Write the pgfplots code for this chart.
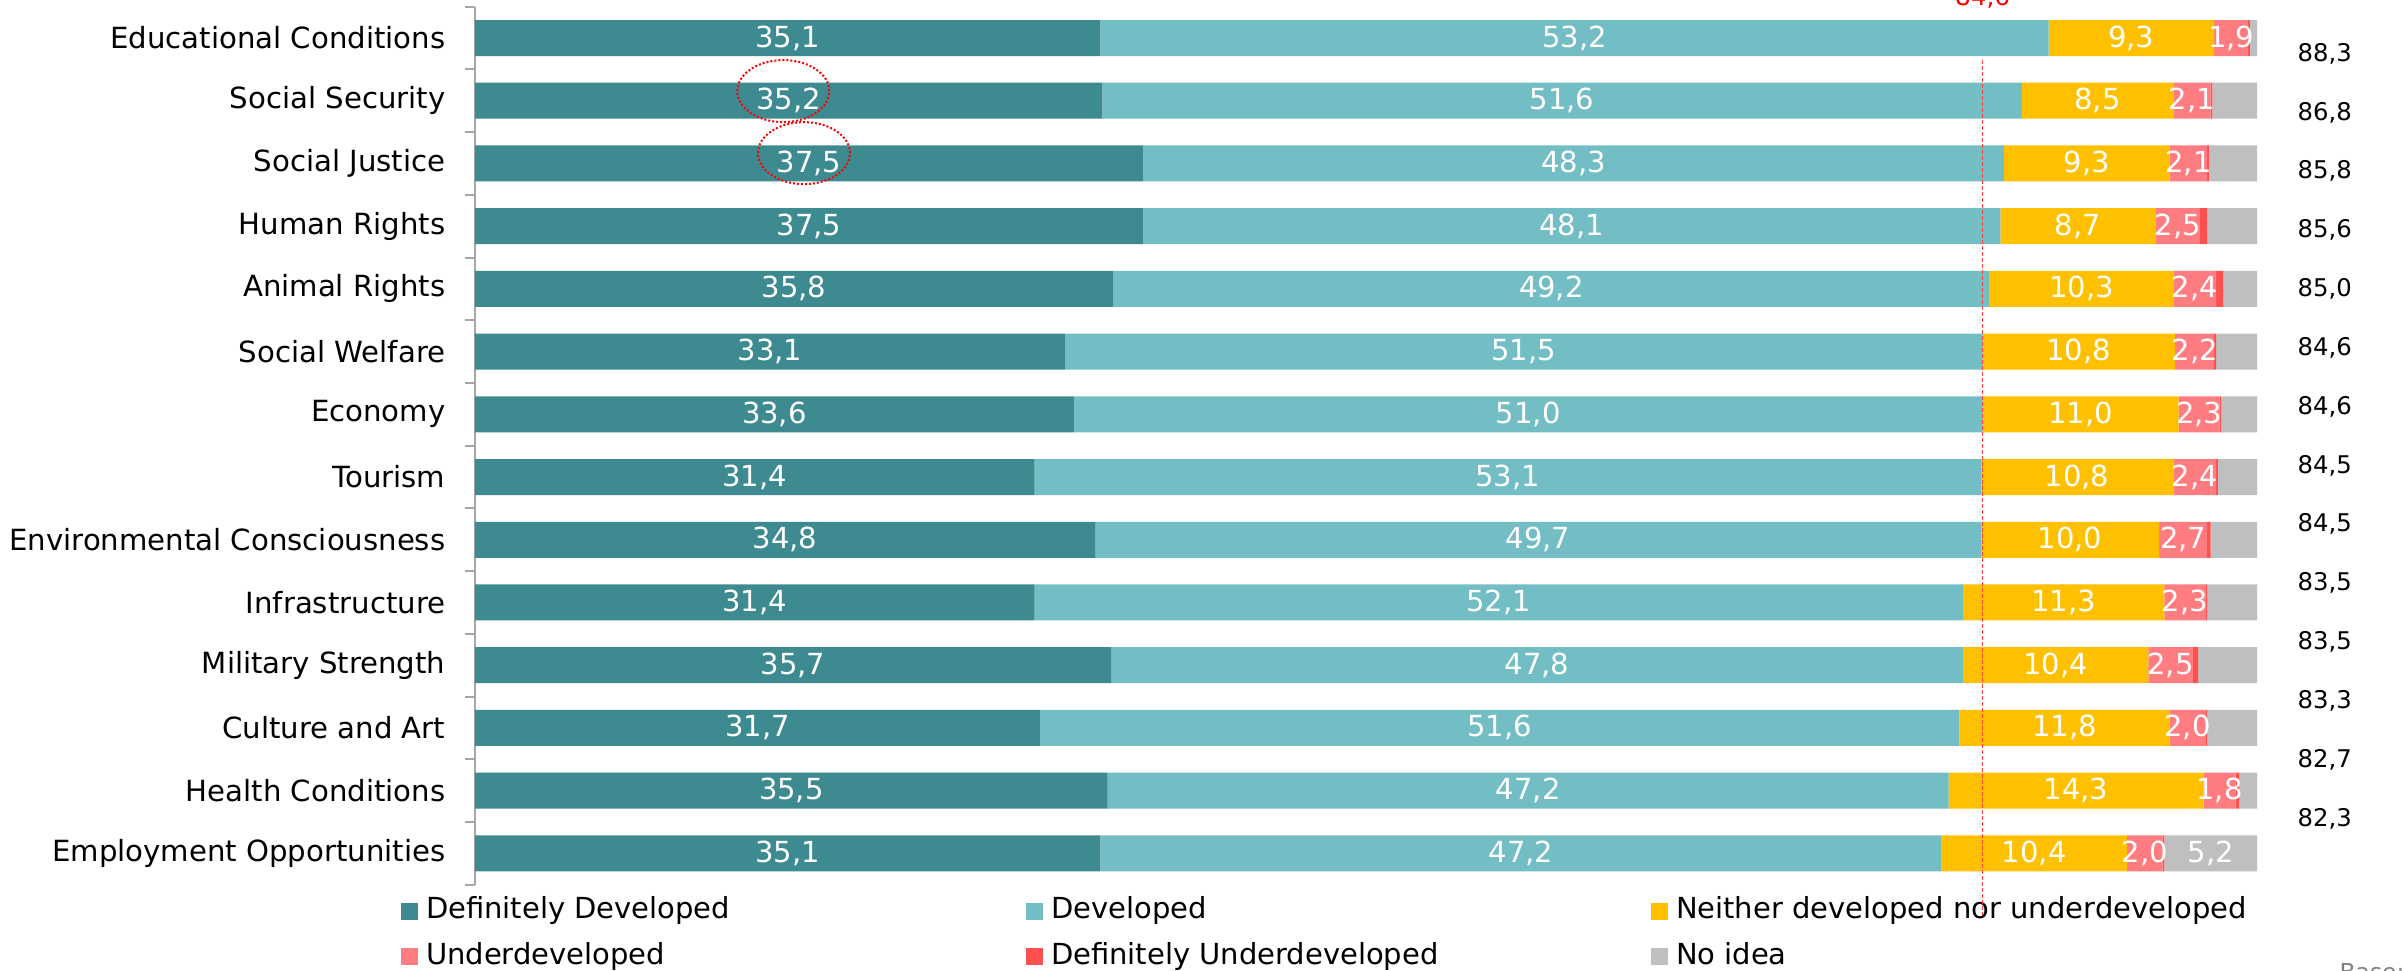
\documentclass[border=0pt]{standalone}
\usepackage{fontspec}
\setmainfont{DejaVu Sans}
\usepackage{pgfplots}
\usepackage{pgfplotstable}
\pgfplotsset{compat=1.18}

\definecolor{cDD}{RGB}{61,139,145}
\definecolor{cD}{RGB}{115,190,196}
\definecolor{cN}{RGB}{255,192,0}
\definecolor{cU}{RGB}{255,124,128}
\definecolor{cDU}{RGB}{255,80,80}
\definecolor{cNI}{RGB}{191,191,191}

\pgfplotstableread{
row DD D N U DU NI
0 35.1 53.2 9.3 1.9 0.1 0.4
1 35.2 51.6 8.5 2.1 0.1 2.5
2 37.5 48.3 9.3 2.1 0.1 2.7
3 37.5 48.1 8.7 2.5 0.4 2.8
4 35.8 49.2 10.3 2.4 0.4 1.9
5 33.1 51.5 10.8 2.2 0.1 2.3
6 33.6 51.0 11.0 2.3 0.1 2.0
7 31.4 53.1 10.8 2.4 0.1 2.2
8 34.8 49.7 10.0 2.7 0.2 2.6
9 31.4 52.1 11.3 2.3 0.1 2.8
10 35.7 47.8 10.4 2.5 0.3 3.3
11 31.7 51.6 11.8 2.0 0.1 2.8
12 35.5 47.2 14.3 1.8 0.2 1.0
13 35.1 47.2 10.4 2.0 0.1 5.2
}\datatable
% label positions: middle of each stacked segment
\pgfplotstablecreatecol[create col/expr={\thisrow{DD}/2}]{mDD}\datatable
\pgfplotstablecreatecol[create col/expr={\thisrow{DD}+\thisrow{D}/2}]{mD}\datatable
\pgfplotstablecreatecol[create col/expr={\thisrow{DD}+\thisrow{D}+\thisrow{N}/2}]{mN}\datatable
\pgfplotstablecreatecol[create col/expr={\thisrow{DD}+\thisrow{D}+\thisrow{N}+\thisrow{U}/2}]{mU}\datatable
\pgfplotstablecreatecol[create col/expr={\thisrow{DD}+\thisrow{D}+\thisrow{N}+\thisrow{U}+\thisrow{DU}+\thisrow{NI}/2}]{mNI}\datatable

\tikzset{rnum/.style={font=\fontsize{7.3}{9}\selectfont, inner sep=0pt}}

\pgfplotsset{
  commonaxis/.style={
    at={(142.5pt,-265.4pt)}, anchor=south west,
    scale only axis, width=534.6pt, height=263.4pt,
    xmin=0, xmax=100, ymin=-0.5, ymax=13.5, y dir=reverse,
    clip=false,
  },
  seglab/.style={
    only marks, mark=none, point meta=explicit,
    /pgf/number format/assume math mode=true,
    nodes near coords={\pgfmathprintnumber[fixed,fixed zerofill,precision=1,use comma,assume math mode=true]{\pgfplotspointmeta}},
    every node near coord/.style={anchor=center, text=white, inner sep=0pt,
      font=\fontsize{8.7}{10}\selectfont},
  },
}

\begin{document}
\begin{tikzpicture}
\useasboundingbox (0pt,-291.3pt) rectangle (720.6pt,0pt);
\begin{axis}[
  commonaxis,
  xbar stacked, bar width=10.8pt,
  axis x line=none, axis y line*=left,
  axis line style={gray!70, line width=0.6pt},
  ytick={0,...,13},
  yticklabels={Educational Conditions, Social Security, Social Justice, Human Rights, Animal Rights, Social Welfare, Economy, Tourism, Environmental Consciousness, Infrastructure, Military Strength, Culture and Art, Health Conditions, Employment Opportunities},
  major tick length=0pt,
  minor ytick={-0.5,0.5,...,13.5},
  minor tick length=3pt,
  tick align=outside,
  every minor tick/.append style={gray!70, line width=0.6pt},
  yticklabel style={font=\fontsize{8.75}{10}\selectfont, inner sep=0pt, xshift=-8.7pt},
  legend columns=3,
  legend style={draw=none, fill=none, at={(-0.0415,-0.0144)}, anchor=north west,
    inner sep=0pt, outer sep=0pt, row sep=5.4pt,
    nodes={inner sep=0pt, text height=6.5pt, text depth=1.8pt, font=\fontsize{8.7}{10}\selectfont},
    /tikz/every odd column/.append style={column sep=2.4pt}},
  legend image code/.code={\fill[#1] (0pt,-2.55pt) rectangle (5.1pt,2.55pt);},
]
\addplot[fill=cDD, draw=none] table[x=DD,y=row]{\datatable};
\addlegendentry{\makebox[180pt][l]{Definitely Developed}}
\addplot[fill=cD, draw=none] table[x=D,y=row]{\datatable};
\addlegendentry{\makebox[180pt][l]{Developed}}
\addplot[fill=cN, draw=none] table[x=N,y=row]{\datatable};
\addlegendentry{\makebox[180pt][l]{Neither developed nor underdeveloped}}
\addplot[fill=cU, draw=none] table[x=U,y=row]{\datatable};
\addlegendentry{\makebox[180pt][l]{Underdeveloped}}
\addplot[fill=cDU, draw=none] table[x=DU,y=row]{\datatable};
\addlegendentry{\makebox[180pt][l]{Definitely Underdeveloped}}
\addplot[fill=cNI, draw=none] table[x=NI,y=row]{\datatable};
\addlegendentry{\makebox[180pt][l]{No idea}}
\end{axis}

% overlay axis with the segment labels, reference line and notes
\begin{axis}[commonaxis, hide axis]
\addplot[seglab] table[x=mDD,y=row,meta=DD]{\datatable};
\addplot[seglab] table[x=mD,y=row,meta=D]{\datatable};
\addplot[seglab] table[x=mN,y=row,meta=N]{\datatable};
\addplot[seglab] table[x=mU,y=row,meta=U]{\datatable};
\addplot[seglab, x filter/.expression={\thisrow{NI}>4 ? x : nan}] table[x=mNI,y=row,meta=NI]{\datatable};
\draw[red!75!white, dash pattern=on 1.2pt off 0.6pt, line width=0.5pt] (axis cs:84.6,0.35) -- (axis cs:84.6,13.99);
\node[text=red, anchor=base, inner sep=0pt, font=\fontsize{7.4}{9}\selectfont] at (axis cs:84.6,-0.526) {84,6};
\draw[red, line width=0.6pt, dash pattern=on 0.6pt off 0.6pt] (axis cs:17.3,0.846) ellipse [x radius=13.8pt, y radius=9.3pt];
\draw[red, line width=0.6pt, dash pattern=on 0.6pt off 0.6pt] (axis cs:18.46,1.835) ellipse [x radius=13.8pt, y radius=9.3pt];
\node[rnum] at (axis cs:103.8,0.25) {88,3};
\node[rnum] at (axis cs:103.8,1.188) {86,8};
\node[rnum] at (axis cs:103.8,2.126) {85,8};
\node[rnum] at (axis cs:103.8,3.064) {85,6};
\node[rnum] at (axis cs:103.8,4.002) {85,0};
\node[rnum] at (axis cs:103.8,4.94) {84,6};
\node[rnum] at (axis cs:103.8,5.878) {84,6};
\node[rnum] at (axis cs:103.8,6.816) {84,5};
\node[rnum] at (axis cs:103.8,7.754) {84,5};
\node[rnum] at (axis cs:103.8,8.692) {83,5};
\node[rnum] at (axis cs:103.8,9.63) {83,5};
\node[rnum] at (axis cs:103.8,10.568) {83,3};
\node[rnum] at (axis cs:103.8,11.506) {82,7};
\node[rnum] at (axis cs:103.8,12.444) {82,3};
\end{axis}
\node[anchor=north west, inner sep=0pt, text=gray, font=\fontsize{7}{8}\selectfont] at (701.7pt,-288.9pt) {Base: 1};
\end{tikzpicture}
\end{document}
